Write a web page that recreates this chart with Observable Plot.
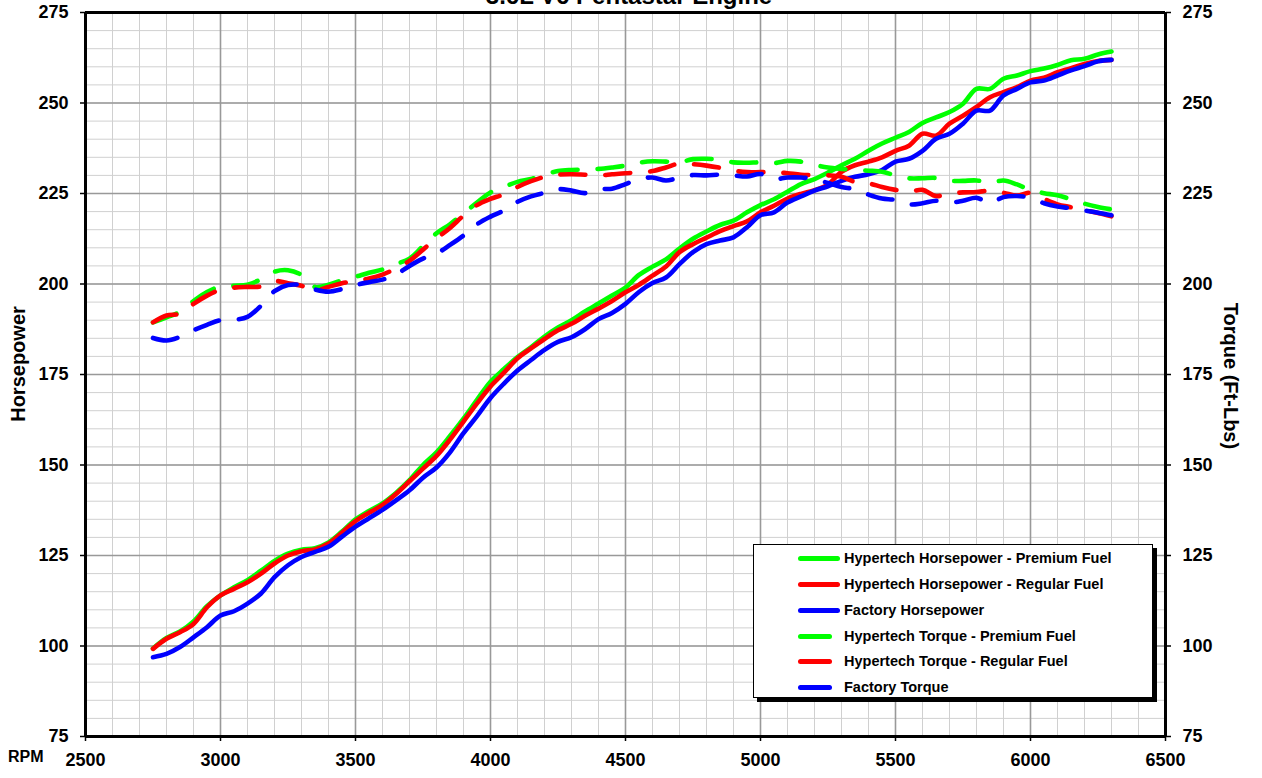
<!DOCTYPE html>
<html><head><meta charset="utf-8">
<script src="https://cdn.jsdelivr.net/npm/d3@7"></script>
<script src="https://cdn.jsdelivr.net/npm/@observablehq/plot@0.6"></script>
<style>
body{margin:0;background:#fff;font-family:"Liberation Sans",Arial,sans-serif;font-weight:bold;overflow:hidden;color:#000}
#wrap{position:relative;width:1262px;height:778px;overflow:hidden}
#chart{position:absolute;left:0;top:0}
.abs{position:absolute;white-space:nowrap}
#title{left:0;width:1258px;text-align:center;top:-16px;font-size:24px;line-height:24px}
#hpLabel{left:18px;top:364px;font-size:20px;line-height:20px;transform:translate(-50%,-50%) rotate(-90deg)}
#tqLabel{left:1231px;top:376px;font-size:20px;line-height:20px;transform:translate(-50%,-50%) rotate(90deg)}
#rpmLabel{left:8px;top:749px;font-size:16px;line-height:16px}
#legend{left:753px;top:544px;width:398px;height:152px;border:1px solid #000;box-shadow:4px 4px 0 #000;background:#fff}
.row{position:absolute;left:0;height:20px;width:100%}
.sample{position:absolute;left:44px;top:8px;height:4.5px;border-radius:3px}
.ltext{position:absolute;left:90px;top:0;font-size:14.5px;line-height:20px}
</style></head><body>
<div id="wrap">
<div id="chart"></div>
<div id="title" class="abs">3.6L V6 Pentastar Engine</div>
<div id="hpLabel" class="abs">Horsepower</div>
<div id="tqLabel" class="abs">Torque (Ft-Lbs)</div>
<div id="rpmLabel" class="abs">RPM</div>
<div id="legend" class="abs"></div>
</div>
<script>
const rpm = [2750,2800,2850,2900,2950,3000,3050,3100,3150,3200,3250,3300,3350,3400,3450,3500,3550,3600,3650,3700,3750,3800,3850,3900,3950,4000,4050,4100,4150,4200,4250,4300,4350,4400,4450,4500,4550,4600,4650,4700,4750,4800,4850,4900,4950,5000,5050,5100,5150,5200,5250,5300,5350,5400,5450,5500,5550,5600,5650,5700,5750,5800,5850,5900,5950,6000,6050,6100,6150,6200,6250,6300];

const hpPremium = [99.3,102.2,104.0,106.8,111.0,114.0,116.2,118.2,120.8,123.5,125.5,126.6,127.0,128.6,131.6,135.0,137.3,139.4,142.3,145.8,150.0,153.5,158.0,162.8,168.0,173.0,176.5,179.8,182.5,185.5,188.0,190.0,192.4,194.6,196.8,199.0,202.5,204.8,206.8,209.8,212.5,214.5,216.3,217.5,219.8,221.8,223.4,225.5,227.6,229.0,230.8,232.8,234.6,236.8,238.8,240.4,242.0,244.5,246.0,247.5,249.8,253.9,253.9,256.7,257.6,258.8,259.5,260.5,261.8,262.2,263.4,264.2];

const hpRegular = [99.2,102.0,103.8,106.1,110.7,114.0,115.8,117.6,120.0,122.8,125.0,126.2,126.7,128.3,131.3,134.5,136.8,139.0,142.0,145.5,149.0,152.5,157.0,162.0,167.0,171.7,175.5,179.5,182.2,184.8,187.2,189.0,191.2,193.2,195.3,197.7,199.8,202.3,204.8,208.8,211.0,212.8,214.6,216.0,217.3,219.8,221.6,223.6,224.9,225.9,227.5,231.0,232.8,233.8,235.0,236.8,238.2,241.5,241.0,244.3,246.5,248.9,251.6,253.0,254.4,256.2,257.0,258.5,259.6,260.8,261.6,261.9];

const hpFactory = [96.9,97.8,99.7,102.4,105.2,108.4,109.6,111.7,114.5,119.0,122.3,124.6,126.0,127.4,130.2,133.0,135.3,137.6,140.2,143.0,146.5,149.3,153.5,158.8,163.5,168.5,172.5,176.1,179.0,181.8,184.0,185.3,187.5,190.3,192.0,194.5,197.8,200.3,201.8,205.5,208.8,211.0,212.0,212.9,215.7,219.0,219.8,222.5,224.2,225.8,227.0,228.5,229.6,230.3,231.5,233.8,234.6,236.8,240.1,241.5,244.3,247.9,247.9,252.1,253.9,255.7,256.2,257.6,259.0,260.2,261.5,261.9];

const tqPremium = [189.4,190.8,192.3,195.3,197.8,199.3,199.5,199.8,201.3,203.4,203.8,202.5,199.2,199.8,201.0,202.0,203.1,204.0,205.5,207.0,210.5,214.0,216.5,219.5,222.5,225.3,226.8,228.2,229.0,230.2,231.2,231.5,231.6,231.8,232.2,232.7,233.5,233.9,233.8,233.6,234.5,234.6,234.3,233.6,233.5,233.6,233.4,234.0,233.8,232.9,232.2,231.8,231.5,231.3,231.0,230.0,229.2,229.2,229.3,228.5,228.5,228.6,228.0,228.6,227.5,226.0,225.1,224.5,223.4,222.2,221.3,220.6];

const tqRegular = [189.4,191.3,191.8,194.5,196.8,198.4,199.0,199.2,199.3,200.8,200.2,199.5,198.2,199.2,200.2,200.8,201.5,202.6,204.3,206.4,209.5,212.6,215.5,218.9,221.8,223.5,224.8,226.8,228.4,229.6,230.2,230.3,230.2,230.0,230.3,230.6,230.8,231.2,232.2,233.3,233.1,232.7,232.1,231.3,230.9,230.9,230.9,230.6,230.2,230.1,230.0,229.6,228.2,227.8,226.8,226.0,225.5,226.0,224.3,225.0,225.3,225.4,225.8,225.2,224.4,225.2,223.5,222.0,221.2,220.4,219.6,218.7];

const tqFactory = [185.1,184.4,185.4,187.2,188.7,190.0,190.1,190.9,194.0,198.0,199.7,199.7,198.5,197.9,198.6,199.7,200.5,201.2,202.6,205.0,207.0,208.4,210.8,213.4,216.5,218.6,220.3,222.7,224.2,225.2,226.2,225.8,225.1,226.2,226.3,227.6,229.0,229.4,228.6,229.4,230.1,230.0,230.2,230.0,229.7,230.4,229.0,229.4,229.4,229.0,227.9,226.8,226.2,224.7,223.6,223.2,222.0,222.3,223.0,222.5,223.0,223.8,222.4,224.0,224.3,223.8,222.3,221.4,220.9,220.3,219.7,219.0];

const seriesNames = ["Hypertech Horsepower - Premium Fuel","Hypertech Horsepower - Regular Fuel","Factory Horsepower","Hypertech Torque - Premium Fuel","Hypertech Torque - Regular Fuel","Factory Torque"];
const seriesValues = [hpPremium, hpRegular, hpFactory, tqPremium, tqRegular, tqFactory];
const seriesColors = ["#00ff00","#ff0000","#0000ff","#00ff00","#ff0000","#0000ff"];
const seriesDashed = [false,false,false,true,true,true];

const xMajor = [2500,3000,3500,4000,4500,5000,5500,6000,6500];
const yMajor = [75,100,125,150,175,200,225,250,275];
const xMinor = d3.range(2500, 6501, 100);
const yMinor = d3.range(75, 276, 5);

const DASH = "25,20";
const lineMarks = seriesNames.map((name, i) => {
  const data = rpm.map((r, j) => ({rpm: r, value: seriesValues[i][j]}));
  return Plot.line(data, {
    x: "rpm", y: "value", stroke: seriesColors[i], strokeWidth: 4.6,
    strokeLinecap: "round", strokeLinejoin: "round",
    strokeDasharray: seriesDashed[i] ? DASH : null,
    curve: "catmull-rom"
  });
});

const chart = Plot.plot({
  width: 1262, height: 778,
  marginLeft: 85, marginRight: 97, marginTop: 12, marginBottom: 42,
  x: {domain: [2500, 6500]},
  y: {domain: [75, 275]},
  style: {fontFamily: '"Liberation Sans", Arial, sans-serif', fontSize: "18px", fontWeight: "bold", color: "#000", background: "#fff"},
  marks: [
    Plot.ruleX(xMinor, {stroke: "#d0d0d0", strokeWidth: 1}),
    Plot.ruleY(yMinor, {stroke: "#d0d0d0", strokeWidth: 1}),
    Plot.ruleX(xMajor, {stroke: "#999", strokeWidth: 1.6}),
    Plot.ruleY(yMajor, {stroke: "#999", strokeWidth: 1.6}),
    ...lineMarks,
    Plot.axisX(xMajor, {tickSize: 5, tickPadding: 12, label: null, stroke: "#000", strokeWidth: 1.5, tickFormat: d => String(d)}),
    Plot.axisY(yMajor, {anchor: "left", tickSize: 5, tickPadding: 12, label: null, stroke: "#000", strokeWidth: 1.5}),
    Plot.axisY(yMajor, {anchor: "right", tickSize: 5, tickPadding: 12, label: null, stroke: "#000", strokeWidth: 1.5}),
    Plot.ruleX([2500, 6500], {stroke: "#000", strokeWidth: 3}),
    Plot.ruleY([75, 275], {stroke: "#000", strokeWidth: 3})
  ]
});
document.getElementById("chart").appendChild(chart);

const legend = document.getElementById("legend");
const rowTops = [3, 29, 55, 81, 106, 132];
seriesNames.forEach((name, i) => {
  const row = document.createElement("div");
  row.className = "row";
  row.style.top = rowTops[i] + "px";
  const s = document.createElement("div");
  s.className = "sample";
  s.style.width = (seriesDashed[i] ? 34 : 42) + "px";
  s.style.background = seriesColors[i];
  const t = document.createElement("div");
  t.className = "ltext";
  t.textContent = name;
  row.appendChild(s); row.appendChild(t);
  legend.appendChild(row);
});
</script>
</body></html>
